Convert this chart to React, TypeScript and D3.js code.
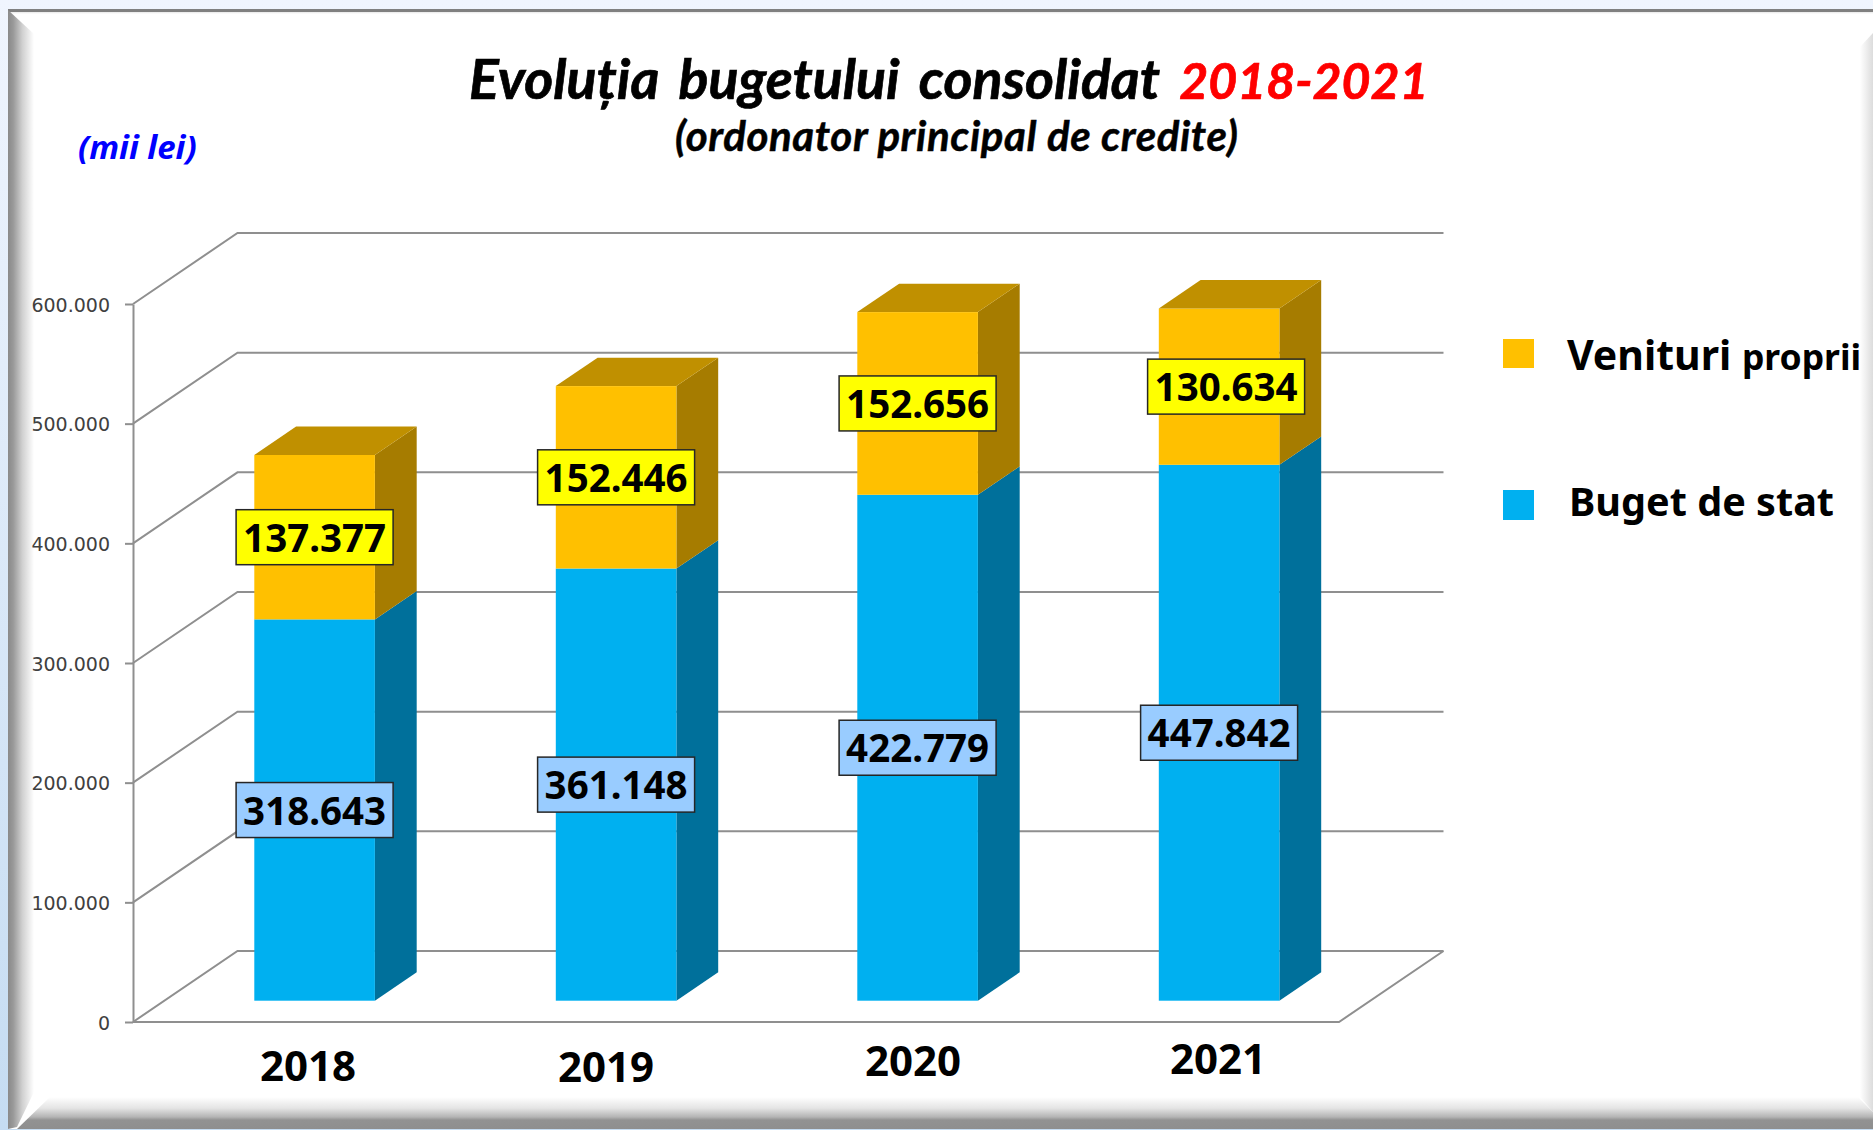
// Evolutia bugetului consolidat - 3D style stacked bars
import React, { useEffect, useRef } from 'react';
import { select, scaleBand, scaleLinear, axisLeft, formatLocale, line } from 'd3';

const years = ['2018', '2019', '2020', '2021'];
const bugetStat = [318643, 361148, 422779, 447842];
const venituriProprii = [137377, 152446, 152656, 130634];
const yTicks = [0, 100000, 200000, 300000, 400000, 500000, 600000];

const width = 1873;
const height = 1130;

// plot box: front plane of the chart and how far the back wall is shifted
const plotLeft = 133;
const plotRight = 1339;
const plotBottom = 1022;
const plotTop = 304;
const wallDx = 104.5;
const wallDy = 71;
// bars sit 30% into the depth, and take 40% of it
const barFront = 0.3;
const barDepth = 0.4;

const numFont = '"Noto Sans", sans-serif';
const gridColor = '#8f8f8f';

const fmt = formatLocale({ decimal: ',', thousands: '.', grouping: [3], currency: ['', ''] }).format(',');

function App() {
  const svgRef = useRef<SVGSVGElement>(null);

  useEffect(() => {
    const svg = select(svgRef.current);
    svg.selectAll('*').remove();

    const x = scaleBand<string>().domain(years).range([plotLeft, plotRight]).paddingInner(0.6).paddingOuter(0.3);
    const y = scaleLinear().domain([0, 600000]).range([plotBottom, plotTop]);
    const poly = line();

    // ---- page and bevelled frame
    const defs = svg.append('defs');
    const grad = (id: string, x2: number, y2: number, stops: [number, string][]) => {
      const g = defs.append('linearGradient').attr('id', id).attr('x1', 0).attr('y1', 0).attr('x2', x2).attr('y2', y2);
      stops.forEach(s => g.append('stop').attr('offset', s[0]).attr('stop-color', s[1]));
    };
    grad('pageBg', 0, 1, [[0, '#f0f5fe'], [1, '#c5dcf2']]);
    grad('bevelLeft', 1, 0, [[0, '#8a8a8a'], [0.2, '#999999'], [0.55, '#d0d0d0'], [1, '#ffffff']]);
    grad('bevelRight', 1, 0, [[0, '#ffffff'], [1, '#dcdcdc']]);
    grad('bevelBottom', 0, 1, [[0, '#ffffff'], [0.35, '#e4e4e4'], [0.62, '#b5b5b5'], [0.72, '#929292'], [1, '#8e8e8e']]);
    grad('bevelTop', 0, 1, [[0, '#808080'], [0.5, '#808080'], [0.6, '#e8e8e8'], [1, '#ffffff']]);

    svg.append('rect').attr('width', width).attr('height', height).attr('fill', 'url(#pageBg)');
    svg.append('rect').attr('x', 8).attr('y', 9).attr('width', width - 8).attr('height', 1120).attr('fill', '#fff');
    svg.append('rect').attr('x', 8).attr('y', 9).attr('width', width - 8).attr('height', 5).attr('fill', 'url(#bevelTop)');
    svg.append('path').attr('fill', 'url(#bevelLeft)')
      .attr('d', poly([[8, 10], [34, 34], [34, 1092], [17, 1127], [8, 1129]]));
    svg.append('path').attr('fill', 'url(#bevelRight)')
      .attr('d', poly([[1860, 47], [1873, 33], [1873, 1112], [1860, 1097]]));
    svg.append('path').attr('fill', 'url(#bevelBottom)')
      .attr('d', poly([[50, 1097], [1858, 1097], [1873, 1112], [1873, 1129], [17, 1129]]));

    // ---- titles
    const title = svg.append('text')
      .attr('x', 469).attr('y', 99)
      .attr('font-family', 'Lato, sans-serif').attr('font-weight', 700).attr('font-style', 'italic')
      .attr('font-size', 55.5).attr('word-spacing', 7)
      .attr('stroke', '#000').attr('stroke-width', 0.7);
    title.append('tspan').text('Evoluția bugetului consolidat ');
    title.append('tspan').attr('fill', '#ff0000').attr('stroke', '#ff0000').attr('font-size', 50).text('2018-2021');

    svg.append('text')
      .attr('x', 675).attr('y', 151)
      .attr('font-family', 'Lato, sans-serif').attr('font-weight', 700).attr('font-style', 'italic')
      .attr('font-size', 42).attr('letter-spacing', 0.6)
      .attr('stroke', '#000').attr('stroke-width', 0.5)
      .text('(ordonator principal de credite)');

    svg.append('text')
      .attr('x', 78).attr('y', 159)
      .attr('font-family', numFont).attr('font-weight', 700).attr('font-style', 'italic')
      .attr('font-size', 33).attr('fill', '#0000ff')
      .text('(mii lei)');

    // ---- walls: gridlines on side wall + back wall, floor
    const grid = svg.append('g').attr('fill', 'none').attr('stroke', gridColor).attr('stroke-width', 2);
    grid.selectAll('path.wall')
      .data(yTicks)
      .enter().append('path')
      .attr('class', 'wall')
      .attr('d', d => poly([[plotLeft, y(d)], [plotLeft + wallDx, y(d) - wallDy], [plotRight + wallDx, y(d) - wallDy]]));
    grid.append('path')
      .attr('d', poly([[plotLeft, plotBottom], [plotRight, plotBottom], [plotRight + wallDx, plotBottom - wallDy]]));

    // ---- y axis
    const yAxis = axisLeft(y).tickValues(yTicks).tickFormat(d => fmt(d as number)).tickSize(8).tickSizeOuter(0).tickPadding(15);
    const axisG = svg.append('g').attr('transform', `translate(${plotLeft},0)`).call(yAxis);
    axisG.selectAll('path,line').attr('stroke', gridColor).attr('stroke-width', 2);
    axisG.selectAll('text')
      .attr('font-family', '"DejaVu Sans", sans-serif').attr('font-size', 19).attr('fill', '#404040')
      .attr('dy', '0.38em');

    // ---- bars
    const frontDx = wallDx * barFront - 0.5;
    const frontDy = wallDy * barFront;
    const sideDx = wallDx * barDepth;
    const sideDy = wallDy * barDepth;

    const stacks = [
      { name: 'Buget de stat', values: bugetStat, base: bugetStat.map(() => 0), front: '#00b0f0', side: '#00709b', top: '#008cbf', box: '#99ccff' },
      { name: 'Venituri proprii', values: venituriProprii, base: bugetStat, front: '#ffc000', side: '#a67c00', top: '#c09000', box: '#ffff00' },
    ];

    stacks.forEach((s, si) => {
      const g = svg.append('g');
      s.values.forEach((v, i) => {
        const x0 = x(years[i])! + frontDx;
        const x1 = x0 + x.bandwidth();
        const yLow = y(s.base[i]) - frontDy;
        const yHigh = y(s.base[i] + v) - frontDy;
        g.append('path').attr('fill', s.side)
          .attr('d', poly([[x1, yLow], [x1 + sideDx, yLow - sideDy], [x1 + sideDx, yHigh - sideDy], [x1, yHigh]]) + 'Z');
        g.append('rect').attr('fill', s.front)
          .attr('x', x0).attr('y', yHigh).attr('width', x.bandwidth()).attr('height', yLow - yHigh);
        if (si === stacks.length - 1) {
          g.append('path').attr('fill', s.top)
            .attr('d', poly([[x0, yHigh], [x0 + sideDx, yHigh - sideDy], [x1 + sideDx, yHigh - sideDy], [x1, yHigh]]) + 'Z');
        }
      });
    });

    // ---- value boxes on top of everything
    const boxW = 157;
    const boxH = 55;
    stacks.forEach(s => {
      s.values.forEach((v, i) => {
        // the 2021 box of venituri was nudged to the right in the original
        const nudge = i === 3 && s.name === 'Venituri proprii' ? 7 : 0;
        const cx = x(years[i])! + frontDx + x.bandwidth() / 2 + nudge;
        const cy = (y(s.base[i]) + y(s.base[i] + v)) / 2 - frontDy;
        svg.append('rect')
          .attr('x', cx - boxW / 2).attr('y', cy - boxH / 2).attr('width', boxW).attr('height', boxH)
          .attr('fill', s.box).attr('stroke', '#262626').attr('stroke-width', 1.5);
        svg.append('text')
          .attr('x', cx).attr('y', cy + 14.5).attr('text-anchor', 'middle')
          .attr('font-family', numFont).attr('font-weight', 700).attr('font-size', 38.5).attr('fill', '#000')
          .text(fmt(v));
      });
    });

    // ---- year labels, hand placed text boxes in the original
    const yearCenters = [308, 606, 913, 1218];
    const yearBase = [1081, 1082, 1076, 1074];
    svg.selectAll('text.year')
      .data(years)
      .enter().append('text')
      .attr('class', 'year')
      .attr('x', (d, i) => yearCenters[i]).attr('y', (d, i) => yearBase[i])
      .attr('text-anchor', 'middle')
      .attr('font-family', numFont).attr('font-weight', 700).attr('font-size', 42)
      .text(d => d);

    // ---- legend
    const legend = svg.append('g').attr('font-family', numFont).attr('font-weight', 700);
    legend.append('rect').attr('x', 1503).attr('y', 339).attr('width', 31).attr('height', 29).attr('fill', stacks[1].front);
    legend.append('rect').attr('x', 1503).attr('y', 490).attr('width', 31).attr('height', 30).attr('fill', stacks[0].front);
    const vp = legend.append('text').attr('x', 1567).attr('y', 370).attr('font-size', 41);
    vp.append('tspan').text('Venituri ');
    vp.append('tspan').attr('font-size', 35.5).text('proprii');
    legend.append('text').attr('x', 1569).attr('y', 516).attr('font-size', 39.6).text('Buget de stat');
  }, []);

  return (
    <svg
      ref={svgRef}
      width={width}
      height={height}
      viewBox={`0 0 ${width} ${height}`}
      style={{ position: 'absolute', left: 0, top: 0, display: 'block' }}
    />
  );
}

export default App;
